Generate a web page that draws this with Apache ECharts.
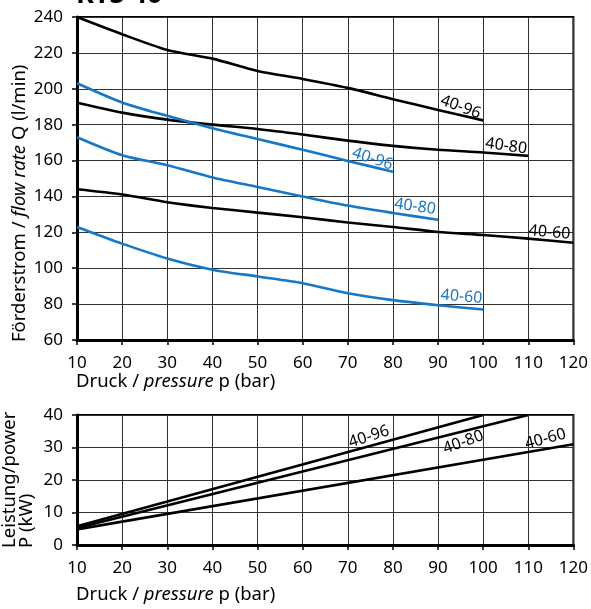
<!DOCTYPE html>
<html>
<head>
<meta charset="utf-8">
<script src="https://cdn.jsdelivr.net/npm/echarts@6/dist/echarts.min.js"></script>
<style>
  html, body { margin: 0; padding: 0; background: #fff; }
  #chart { width: 591px; height: 609px; }
</style>
</head>
<body>
<div id="chart"></div>
<script>
// Pressure steps (bar)
const pressure = [10, 20, 30, 40, 50, 60, 70, 80, 90, 100, 110, 120];
const xTicks = [10, 20, 30, 40, 50, 60, 70, 80, 90, 100, 110, 120];
const flowTicks = [60, 80, 100, 120, 140, 160, 180, 200, 220, 240];
const powerTicks = [0, 10, 20, 30, 40];

// Flow rate Q (l/min), black curves
const flowBlack96 = [240, 230.4, 221.6, 216.8, 209.9, 205.5, 200.5, 194.2, 188.2, 182.4];
const flowBlack80 = [192.2, 186.7, 182.8, 180.0, 177.6, 174.5, 171.1, 168.2, 166.0, 164.5, 162.6];
const flowBlack60 = [144.0, 141.1, 136.8, 133.6, 131.0, 128.4, 125.5, 123.0, 120.2, 118.5, 116.5, 114.2];

// Flow rate Q (l/min), blue curves
const flowBlue96 = [203.1, 192.4, 184.9, 178.0, 172.0, 166.0, 159.8, 153.8];
const flowBlue80 = [173.0, 163.0, 157.4, 150.6, 145.3, 140.0, 134.9, 130.8, 127.0];
const flowBlue60 = [123.0, 113.7, 105.4, 99.2, 95.4, 91.6, 86.0, 82.2, 79.4, 77.0];

// Power P (kW) — straight lines between start and end pressure
const powerP96 = [10, 100];
const power96 = [5.8, 40];
const powerP80 = [10, 110];
const power80 = [5.2, 40];
const powerP60 = [10, 120];
const power60 = [4.8, 31];

// Curve tags: text, anchor in data units, rotation in degrees (positive = counter-clockwise)
const flowTags = [
  { text: '40-96', at: [95.0, 189.8], rot: -20 },
  { text: '40-80', at: [105.1, 168.1], rot: -8 },
  { text: '40-60', at: [114.7, 119.9], rot: -5 },
  { text: '40-96', at: [75.5, 160.9], rot: -18 },
  { text: '40-80', at: [84.9, 134.3], rot: -8 },
  { text: '40-60', at: [95.2, 84.1], rot: -5 }
];
const powerTags = [
  { text: '40-96', at: [74.7, 33.3], rot: 18 },
  { text: '40-80', at: [95.6, 31.6], rot: 20 },
  { text: '40-60', at: [113.8, 32.6], rot: 15 }
];

const FONT = 'Noto Sans';
const BLUE = '#1677c6';
const GRIDLINE = '#333';

function zip(xs, ys) { return ys.map((v, i) => [xs[i], v]); }

function tagPoint(tag, color) {
  return {
    symbol: 'circle',
    symbolSize: 1,
    silent: true,
    itemStyle: { color: 'rgba(0,0,0,0)' },
    label: {
      show: true,
      position: 'inside',
      formatter: tag.text,
      rotate: tag.rot,
      color: color,
      fontFamily: FONT,
      fontSize: 16
    },
    data: [{ coord: tag.at }]
  };
}

function curve(name, xs, ys, color, xi, tag, smooth) {
  return {
    type: 'line',
    name: name,
    xAxisIndex: xi,
    yAxisIndex: xi,
    data: zip(xs, ys),
    showSymbol: false,
    smooth: smooth,
    lineStyle: { color: color, width: 2.6 },
    itemStyle: { color: color },
    markPoint: tagPoint(tag, color),
    z: 3
  };
}

function xAxisCfg(gi, margin) {
  return {
    type: 'value', gridIndex: gi, min: 10, max: 120, interval: 10,
    axisLine: { show: true, onZero: false, lineStyle: { color: '#000', width: 3 } },
    axisTick: { show: true, length: 5, lineStyle: { color: '#000', width: 1.5 } },
    axisLabel: { margin: margin, color: '#000', fontFamily: FONT, fontSize: 17,
      customValues: xTicks },
    splitLine: { show: true, lineStyle: { color: GRIDLINE, width: 1 } }
  };
}

function yAxisCfg(gi, ticks, interval) {
  return {
    type: 'value', gridIndex: gi, min: ticks[0], max: ticks[ticks.length - 1], interval: interval,
    axisLine: { show: true, onZero: false, lineStyle: { color: '#000', width: 3 } },
    axisTick: { show: true, length: 5, lineStyle: { color: '#000', width: 1.5 } },
    axisLabel: { margin: 14, color: '#000', fontFamily: FONT, fontSize: 17 },
    splitLine: { show: true, lineStyle: { color: GRIDLINE, width: 1 } }
  };
}

const italicRich = {
  n: { fontFamily: FONT, fontSize: 18.5, color: '#000' },
  i: { fontFamily: FONT, fontSize: 18.5, fontStyle: 'italic', color: '#000' }
};

const chart = echarts.init(document.getElementById('chart'), null, { renderer: 'canvas' });

chart.setOption({
  animation: false,
  backgroundColor: '#fff',
  grid: [
    { left: 77, top: 17, width: 500, height: 323, show: true, borderColor: '#000', borderWidth: 2, backgroundColor: 'transparent' },
    { left: 77, top: 415, width: 500, height: 130, show: true, borderColor: '#000', borderWidth: 2, backgroundColor: 'transparent' }
  ],
  xAxis: [xAxisCfg(0, 15), xAxisCfg(1, 15)],
  yAxis: [yAxisCfg(0, flowTicks, 20), yAxisCfg(1, powerTicks, 10)],
  series: [
    curve('40-96', pressure, flowBlack96, '#000', 0, flowTags[0], 0.25),
    curve('40-80', pressure, flowBlack80, '#000', 0, flowTags[1], 0.25),
    curve('40-60', pressure, flowBlack60, '#000', 0, flowTags[2], 0.25),
    curve('40-96 ', pressure, flowBlue96, BLUE, 0, flowTags[3], 0.25),
    curve('40-80 ', pressure, flowBlue80, BLUE, 0, flowTags[4], 0.25),
    curve('40-60 ', pressure, flowBlue60, BLUE, 0, flowTags[5], 0.25),
    curve('P 40-96', powerP96, power96, '#000', 1, powerTags[0], false),
    curve('P 40-80', powerP80, power80, '#000', 1, powerTags[1], false),
    curve('P 40-60', powerP60, power60, '#000', 1, powerTags[2], false)
  ],
  graphic: [
    {
      type: 'text', x: 76, y: -18,
      style: { text: 'KTS 40', font: 'bold 27px "Noto Sans"', fill: '#000', align: 'left', verticalAlign: 'top' }
    },
    {
      type: 'text', x: 76, y: 372,
      style: {
        text: '{n|Druck / }{i|pressure}{n| p (bar)}', rich: italicRich,
        align: 'left', verticalAlign: 'top'
      }
    },
    {
      type: 'text', x: 76, y: 585,
      style: {
        text: '{n|Druck / }{i|pressure}{n| p (bar)}', rich: italicRich,
        align: 'left', verticalAlign: 'top'
      }
    },
    {
      type: 'text', x: 10, y: 342, rotation: Math.PI / 2,
      style: {
        text: '{n|Förderstrom / }{i|flow rate}{n| Q (l/min)}', rich: italicRich,
        align: 'left', verticalAlign: 'top'
      }
    },
    {
      type: 'text', x: 1.5, y: 548, rotation: Math.PI / 2,
      style: {
        text: 'Leistung/power\nP (kW)', font: '18.5px "Noto Sans"', lineHeight: 17,
        fill: '#000', align: 'left', verticalAlign: 'top'
      }
    }
  ]
});
</script>
</body>
</html>
